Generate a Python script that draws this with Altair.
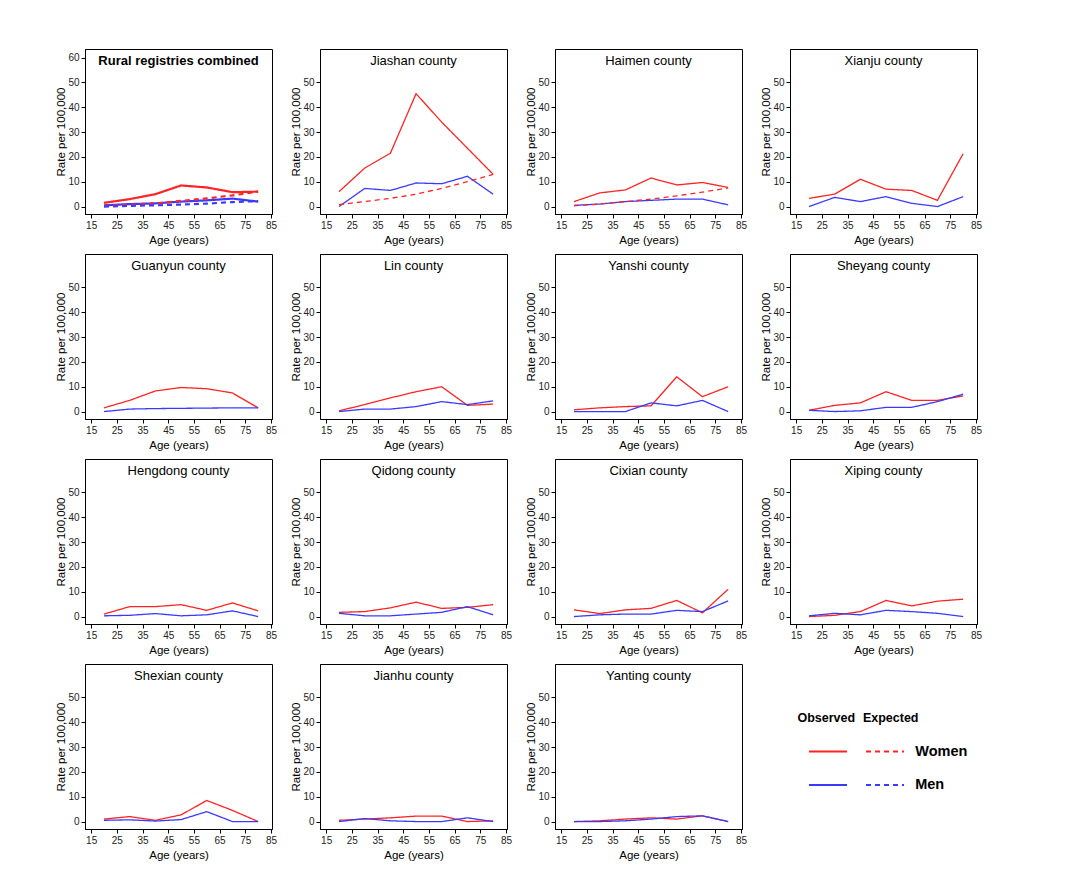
import altair as alt
import pandas as pd

FONT = "Liberation Sans"
RED = "#ff2323"
BLUE = "#3a3aff"

AGES = [20, 30, 40, 50, 60, 70, 80]
X_TICKS = [15, 25, 35, 45, 55, 65, 75, 85]

PANELS = [
    "Rural registries combined", "Jiashan county", "Haimen county", "Xianju county",
    "Guanyun county", "Lin county", "Yanshi county", "Sheyang county",
    "Hengdong county", "Qidong county", "Cixian county", "Xiping county",
    "Shexian county", "Jianhu county", "Yanting county",
]

WOMEN_OBS = {
    "Rural registries combined": [1.5, 3.0, 5.0, 8.5, 7.7, 5.8, 6.0],
    "Jiashan county": [6.0, 15.5, 21.5, 45.5, 34.0, 23.5, 13.0],
    "Haimen county": [2.0, 5.5, 6.7, 11.5, 8.7, 9.7, 7.7],
    "Xianju county": [3.3, 5.0, 11.0, 7.0, 6.5, 2.5, 21.3],
    "Guanyun county": [1.5, 4.5, 8.3, 9.7, 9.2, 7.5, 1.5],
    "Lin county": [0.3, 2.8, 5.5, 8.0, 10.0, 2.5, 3.0],
    "Yanshi county": [0.7, 1.5, 2.0, 2.3, 14.0, 6.0, 10.0],
    "Sheyang county": [0.5, 2.5, 3.5, 8.0, 4.5, 4.5, 6.3],
    "Hengdong county": [1.0, 4.0, 4.0, 4.8, 2.5, 5.5, 2.3],
    "Qidong county": [1.7, 2.0, 3.5, 5.8, 3.3, 3.7, 4.8],
    "Cixian county": [2.7, 1.2, 2.7, 3.3, 6.5, 1.5, 11.0],
    "Xiping county": [0.0, 0.5, 2.0, 6.5, 4.3, 6.2, 7.0],
    "Shexian county": [1.0, 2.0, 0.5, 2.7, 8.5, 4.5, 0.0],
    "Jianhu county": [0.5, 1.0, 1.5, 2.2, 2.2, 0.0, 0.3],
    "Yanting county": [0.0, 0.3, 1.0, 1.5, 1.0, 2.3, 0.0],
}

MEN_OBS = {
    "Rural registries combined": [0.5, 1.0, 1.3, 2.0, 2.5, 3.2, 2.0],
    "Jiashan county": [0.0, 7.3, 6.5, 9.5, 9.2, 12.2, 5.0],
    "Haimen county": [0.5, 1.0, 2.0, 2.5, 3.0, 3.0, 0.7],
    "Xianju county": [0.0, 3.7, 2.0, 4.0, 1.3, 0.0, 4.0],
    "Guanyun county": [0.0, 1.0, 1.2, 1.3, 1.4, 1.5, 1.5],
    "Lin county": [0.0, 1.0, 1.0, 2.0, 4.0, 2.8, 4.3],
    "Yanshi county": [0.0, 0.0, 0.0, 3.5, 2.3, 4.5, 0.0],
    "Sheyang county": [0.5, 0.0, 0.3, 1.7, 1.7, 4.0, 7.0],
    "Hengdong county": [0.3, 0.5, 1.2, 0.3, 0.7, 2.3, 0.0],
    "Qidong county": [1.3, 0.3, 0.3, 1.0, 1.7, 4.0, 0.7],
    "Cixian county": [0.0, 0.7, 1.0, 1.0, 2.5, 2.0, 6.3],
    "Xiping county": [0.3, 1.3, 0.7, 2.5, 2.0, 1.3, 0.0],
    "Shexian county": [0.5, 0.7, 0.2, 0.8, 4.0, 0.0, 0.0],
    "Jianhu county": [0.0, 1.2, 0.3, 0.0, 0.0, 1.5, 0.0],
    "Yanting county": [0.0, 0.0, 0.3, 1.0, 2.0, 2.3, 0.0],
}

WOMEN_EXP = {
    "Rural registries combined": [0.3, 0.7, 1.2, 2.3, 3.3, 4.5, 6.0],
    "Jiashan county": [0.8, 2.0, 3.3, 5.0, 7.3, 10.0, 13.0],
    "Haimen county": [0.3, 1.0, 2.0, 3.0, 4.3, 5.8, 7.5],
}

MEN_EXP = {
    "Rural registries combined": [0.0, 0.3, 0.5, 0.8, 1.2, 1.8, 2.2],
}

LEGEND_STATUS = ["Observed", "Expected"]
LEGEND_SEX = ["Women", "Men"]

rows = []
for src, sex, typ in [(WOMEN_OBS, "Women", "Observed"), (MEN_OBS, "Men", "Observed"),
                      (WOMEN_EXP, "Women", "Expected"), (MEN_EXP, "Men", "Expected")]:
    for name, vals in src.items():
        for a, v in zip(AGES, vals):
            rows.append({"panel": name, "age": a, "rate": v, "sex": sex, "type": typ,
                         "series": sex + "-" + typ})
df = pd.DataFrame(rows)

W, H = 187, 165
color_scale = alt.Scale(domain=["Women", "Men"], range=[RED, BLUE])
dash_scale = alt.Scale(domain=["Observed", "Expected"], range=[[1, 0], [5, 4]])

AX_COMMON = dict(
    grid=False, labelFont=FONT, labelFontSize=10, labelColor="#222",
    titleFont=FONT, titleFontSize=11.5, titleFontWeight="normal", titleColor="black",
    domainColor="black", tickColor="black", tickSize=4, format="d",
)


def panel(name, idx):
    first = idx == 0
    d = df[df.panel == name]
    yvals = list(range(0, 61, 10)) if first else list(range(0, 51, 10))
    lines = alt.Chart(d).mark_line(strokeWidth=2.2 if first else 1.3, clip=True).encode(
        x=alt.X("age:Q",
                scale=alt.Scale(domain=[12.6, 85.4], nice=False, zero=False),
                axis=alt.Axis(values=X_TICKS, title="Age (years)",
                              labelPadding=2, titlePadding=4, **AX_COMMON)),
        y=alt.Y("rate:Q",
                scale=alt.Scale(domain=[-3, 63.5], nice=False, zero=False),
                axis=alt.Axis(values=yvals, title="Rate per 100,000",
                              labelPadding=2, titlePadding=1, minExtent=18, maxExtent=18,
                              **AX_COMMON)),
        color=alt.Color("sex:N", scale=color_scale, legend=None),
        strokeDash=alt.StrokeDash("type:N", scale=dash_scale, legend=None),
        detail="series:N",
    )
    title = alt.Chart(pd.DataFrame({"t": [name]})).mark_text(
        font=FONT, fontSize=13, fontWeight="bold" if first else "normal",
        color="black", baseline="middle", align="center",
    ).encode(text="t:N", x=alt.value(W / 2), y=alt.value(12))
    return alt.layer(lines, title).properties(width=W, height=H)


# legend panel built from the legend categories
leg_rows = []
for i, st in enumerate(LEGEND_STATUS):
    for j, sx in enumerate(LEGEND_SEX):
        leg_rows.append({"type": st, "sex": sx, "col": i, "row": j + 1})
leg_df = pd.DataFrame(leg_rows)
head_df = pd.DataFrame({"label": LEGEND_STATUS, "col": list(range(len(LEGEND_STATUS))), "row": 0})
lab_df = pd.DataFrame({"label": LEGEND_SEX, "row": [j + 1 for j in range(len(LEGEND_SEX))]})

lx = alt.Scale(domain=[-0.684, 2.596], nice=False, zero=False)
ly = alt.Scale(domain=[-1.61, 3.31], nice=False, zero=False, reverse=True)
ly_axis = alt.Axis(labels=False, ticks=False, domain=False, grid=False,
                   title="Rate per 100,000", titleOpacity=0, titlePadding=1,
                   titleFont=FONT, titleFontSize=11.5, titleFontWeight="normal",
                   minExtent=18, maxExtent=18)

leg_lines = alt.Chart(leg_df).transform_calculate(
    x0="datum.col - 0.333", x1="datum.col + 0.333"
).mark_rule(strokeWidth=2).encode(
    x=alt.X("x0:Q", scale=lx, axis=None),
    x2="x1:Q",
    y=alt.Y("row:Q", scale=ly, axis=ly_axis),
    color=alt.Color("sex:N", scale=color_scale, legend=None),
    strokeDash=alt.StrokeDash("type:N", scale=alt.Scale(domain=["Observed", "Expected"],
                                                       range=[[1, 0], [6, 7]]), legend=None),
)
leg_head = alt.Chart(head_df).transform_calculate(xc="datum.col * 1.13 - 0.03").mark_text(
    font=FONT, fontSize=12.5, fontWeight="bold", color="black", baseline="middle", align="center"
).encode(x=alt.X("xc:Q", scale=lx, axis=None), y=alt.Y("row:Q", scale=ly, axis=ly_axis), text="label:N")
leg_lab = alt.Chart(lab_df).transform_calculate(xl="1.53").mark_text(
    font=FONT, fontSize=14.5, fontWeight="bold", color="black", baseline="middle", align="left"
).encode(x=alt.X("xl:Q", scale=lx, axis=None), y=alt.Y("row:Q", scale=ly, axis=ly_axis), text="label:N")

legend = alt.layer(leg_lines, leg_head, leg_lab).properties(
    width=W, height=H, view=alt.ViewBackground(strokeOpacity=0))

charts = [panel(n, i) for i, n in enumerate(PANELS)] + [legend]
grid_rows = [alt.hconcat(*charts[r * 4:(r + 1) * 4], spacing=11) for r in range(4)]

chart = alt.vconcat(*grid_rows, spacing=7).properties(
    padding={"left": 46, "top": 40, "right": 5, "bottom": 5},
    background="white",
).configure_view(stroke="black", strokeWidth=1)

chart.save("out.html", embed_options={"renderer": "svg", "actions": False})
